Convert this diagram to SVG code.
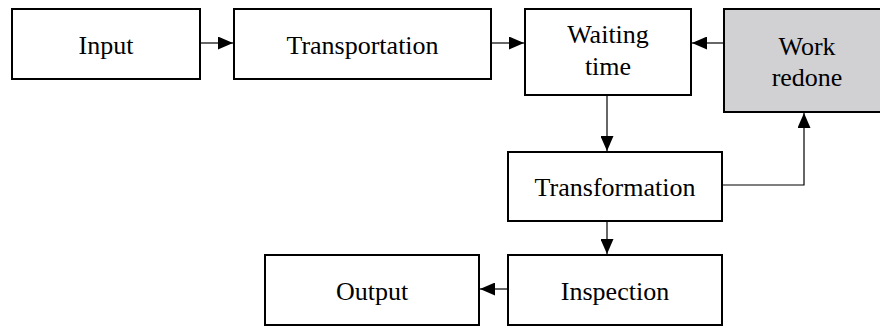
<svg xmlns="http://www.w3.org/2000/svg" width="880" height="329" viewBox="0 0 880 329">
  <style>
    .box { fill: #ffffff; stroke: #000000; stroke-width: 2; }
    .box.shade { fill: #d1d0d3; }
    .link { fill: none; stroke: #000000; stroke-width: 1.2; marker-end: url(#head); }
  </style>
  <defs>
    <marker id="head" markerUnits="userSpaceOnUse" markerWidth="15" markerHeight="13" refX="15" refY="6.5" orient="auto">
      <path d="M0,0 L15,6.5 L0,13 Z" fill="#000000"/>
    </marker>
  </defs>
  <rect width="880" height="329" fill="#ffffff"/>

  <g id="input">
    <rect class="box" x="12" y="9" width="188" height="70"/>
    <text x="106" y="54" text-anchor="middle" style="font-family:'Liberation Serif',serif;font-size:26px">Input</text>
  </g>
  <g id="transportation">
    <rect class="box" x="234" y="9" width="257" height="70"/>
    <text x="362.5" y="54" text-anchor="middle" style="font-family:'Liberation Serif',serif;font-size:26px">Transportation</text>
  </g>
  <g id="waiting-time">
    <rect class="box" x="525" y="9" width="166" height="86"/>
    <text x="608" y="43" text-anchor="middle" style="font-family:'Liberation Serif',serif;font-size:26px">Waiting</text>
    <text x="608" y="75" text-anchor="middle" style="font-family:'Liberation Serif',serif;font-size:26px">time</text>
  </g>
  <g id="work-redone">
    <rect class="box shade" x="724" y="9" width="168" height="103"/>
    <text x="807" y="55" text-anchor="middle" style="font-family:'Liberation Serif',serif;font-size:26px">Work</text>
    <text x="807" y="86" text-anchor="middle" style="font-family:'Liberation Serif',serif;font-size:26px">redone</text>
  </g>
  <g id="transformation">
    <rect class="box" x="508" y="152" width="214" height="69"/>
    <text x="615" y="196" text-anchor="middle" style="font-family:'Liberation Serif',serif;font-size:26px">Transformation</text>
  </g>
  <g id="inspection">
    <rect class="box" x="508" y="255" width="214" height="70"/>
    <text x="615" y="300" text-anchor="middle" style="font-family:'Liberation Serif',serif;font-size:26px">Inspection</text>
  </g>
  <g id="output">
    <rect class="box" x="265" y="255" width="214" height="70"/>
    <text x="372" y="300" text-anchor="middle" style="font-family:'Liberation Serif',serif;font-size:26px">Output</text>
  </g>

  <g id="connectors">
    <path class="link" d="M201,43 H233"/>
    <path class="link" d="M492,43 H524"/>
    <path class="link" d="M723,43 H692"/>
    <path class="link" d="M607,96 V151"/>
    <path class="link" d="M607,222 V254"/>
    <path class="link" d="M508,289 H480"/>
    <path class="link" d="M723,185 H804 V113"/>
  </g>
</svg>
